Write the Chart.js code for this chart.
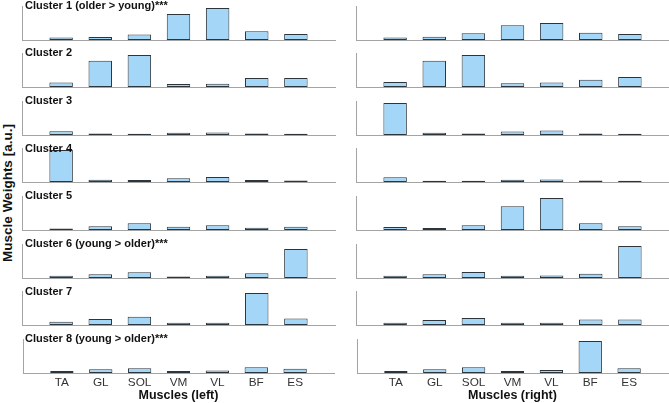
<!DOCTYPE html>
<html lang="en">
<head>
  <meta charset="UTF-8" />
  <title>Muscle Weights per Cluster</title>
  <style>
    body, html {
      margin: 0;
      padding: 0;
      background: #fff;
      overflow: hidden;
      font-family: 'Liberation Sans', Arial, sans-serif;
    }
    #figure {
      position: relative;
      width: 669px;
      height: 403px;
    }
    .panel {
      position: absolute;
    }
    .cluster-title {
      position: absolute;
      font-size: 11px;
      line-height: 11px;
      font-weight: bold;
      color: #111;
      white-space: nowrap;
    }
    #ylabel {
      position: absolute;
      width: 200px;
      height: 14px;
      line-height: 14px;
      font-size: 13.5px;
      font-weight: bold;
      color: #111;
      text-align: center;
      white-space: nowrap;
      transform: rotate(-90deg);
    }
  </style>
</head>
<body>

<div id="figure">
  <div id="ylabel">Muscle Weights [a.u.]</div>
</div>

<script src="https://cdn.jsdelivr.net/npm/chart.js"></script>
<script>
  // muscles on the x axis of every panel
  const muscles = ['TA', 'GL', 'SOL', 'VM', 'VL', 'BF', 'ES'];

  const clusterTitles = [
    'Cluster 1 (older > young)***',
    'Cluster 2',
    'Cluster 3',
    'Cluster 4',
    'Cluster 5',
    'Cluster 6 (young > older)***',
    'Cluster 7',
    'Cluster 8 (young > older)***'
  ];

  const sideTitles = ['Muscles (left)', 'Muscles (right)'];

  // weights per cluster, left side
  const left1 = [0.08, 0.09, 0.17, 0.81, 1.00, 0.27, 0.19];
  const left2 = [0.14, 0.82, 1.00, 0.09, 0.10, 0.28, 0.28];
  const left3 = [0.12, 0.05, 0.04, 0.07, 0.08, 0.05, 0.04];
  const left4 = [1.00, 0.07, 0.06, 0.12, 0.16, 0.06, 0.05];
  const left5 = [0.05, 0.12, 0.21, 0.10, 0.15, 0.07, 0.10];
  const left6 = [0.07, 0.12, 0.18, 0.05, 0.07, 0.15, 0.91];
  const left7 = [0.10, 0.19, 0.26, 0.07, 0.07, 1.00, 0.20];
  const left8 = [0.06, 0.12, 0.15, 0.06, 0.08, 0.18, 0.13];

  // weights per cluster, right side
  const right1 = [0.08, 0.10, 0.21, 0.46, 0.53, 0.23, 0.19];
  const right2 = [0.16, 0.82, 1.00, 0.12, 0.14, 0.23, 0.31];
  const right3 = [1.00, 0.07, 0.05, 0.11, 0.14, 0.05, 0.04];
  const right4 = [0.15, 0.04, 0.04, 0.07, 0.08, 0.05, 0.04];
  const right5 = [0.09, 0.06, 0.15, 0.74, 1.00, 0.21, 0.12];
  const right6 = [0.07, 0.12, 0.19, 0.07, 0.08, 0.13, 1.00];
  const right7 = [0.07, 0.16, 0.22, 0.07, 0.07, 0.17, 0.17];
  const right8 = [0.06, 0.12, 0.18, 0.06, 0.09, 1.00, 0.15];

  const leftSide = [left1, left2, left3, left4, left5, left6, left7, left8];
  const rightSide = [right1, right2, right3, right4, right5, right6, right7, right8];

  // layout (pixels)
  const colX = [22, 356];
  const panelWidth = 313;
  const plotHeight = 34;
  const firstBaseline = 39.5;
  const rowStep = 47.64;
  const pad = 2;
  const bottomAxisHeight = 30;
  const yMax = 1.0625;

  const barFill = '#a4d7f7';
  const barEdge = '#2c353c';
  const axisColor = '#a4a4a4';

  const figure = document.getElementById('figure');
  const ylabel = document.getElementById('ylabel');
  ylabel.style.left = '-92.2px';
  ylabel.style.top = '186.4px';

  function makePanel(row, col) {
    const values = (col === 0 ? leftSide : rightSide)[row];
    const isBottom = row === leftSide.length - 1;
    const baseline = firstBaseline + row * rowStep;
    const axisTop = baseline - plotHeight;

    const w = panelWidth + 2 * pad;
    const h = pad + plotHeight + (isBottom ? bottomAxisHeight : pad);

    const box = document.createElement('div');
    box.className = 'panel';
    box.style.left = (colX[col] - pad) + 'px';
    box.style.top = (axisTop - pad) + 'px';
    const canvas = document.createElement('canvas');
    canvas.width = w;
    canvas.height = h;
    canvas.style.width = w + 'px';
    canvas.style.height = h + 'px';
    box.appendChild(canvas);
    figure.appendChild(box);

    new Chart(canvas, {
      type: 'bar',
      data: {
        labels: ['', ...muscles, ''],
        datasets: [{
          data: [null, ...values, null],
          backgroundColor: barFill,
          borderColor: barEdge,
          borderWidth: 1,
          borderSkipped: false,
          barPercentage: 0.6,
          categoryPercentage: 1
        }]
      },
      options: {
        responsive: false,
        animation: false,
        events: [],
        layout: {
          padding: { left: pad, right: pad, top: pad, bottom: isBottom ? 0 : pad }
        },
        plugins: {
          legend: { display: false },
          tooltip: { enabled: false }
        },
        scales: {
          x: {
            offset: false,
            grid: { display: false, drawTicks: false },
            border: { display: true, color: axisColor, width: 1 },
            ticks: {
              display: isBottom,
              autoSkip: false,
              maxRotation: 0,
              padding: 3,
              color: '#333',
              font: { family: "'Liberation Sans', Arial, sans-serif", size: 11.8 }
            },
            title: {
              display: isBottom,
              text: sideTitles[col],
              color: '#111',
              font: { family: "'Liberation Sans', Arial, sans-serif", size: 12.5, weight: 'bold' },
              padding: { top: 0, bottom: 0 }
            },
            afterFit: function (scale) {
              if (isBottom) scale.height = bottomAxisHeight;
            }
          },
          y: {
            min: 0,
            max: yMax,
            grid: { display: false, drawTicks: false },
            border: { display: true, color: axisColor, width: 1 },
            ticks: { display: false }
          }
        }
      }
    });

    if (col === 0) {
      const t = document.createElement('div');
      t.className = 'cluster-title';
      t.textContent = clusterTitles[row];
      t.style.left = '25px';
      t.style.top = (axisTop - 5.8) + 'px';
      figure.appendChild(t);
    }
  }

  for (let r = 0; r < leftSide.length; r++) {
    makePanel(r, 0);
    makePanel(r, 1);
  }
</script>
</body>
</html>
